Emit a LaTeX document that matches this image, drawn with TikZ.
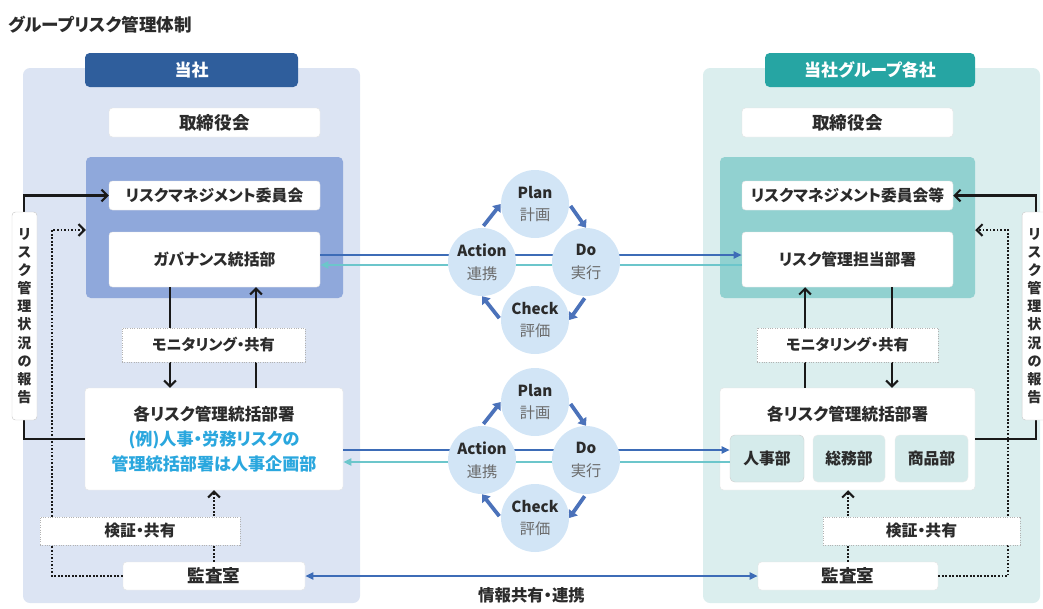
\documentclass[tikz,border=0pt]{standalone}
\usepackage{fontspec}
\setmainfont{Noto Sans CJK JP}[RawFeature=+palt]
\usetikzlibrary{arrows.meta, positioning}

\definecolor{txt}{HTML}{2B2B2B}
\definecolor{bgL}{HTML}{DCE4F3}
\definecolor{hdL}{HTML}{2F5E9C}
\definecolor{inL}{HTML}{8FA8DB}
\definecolor{bgR}{HTML}{DBEEEE}
\definecolor{hdR}{HTML}{26A5A3}
\definecolor{inR}{HTML}{91D1D0}
\definecolor{subR}{HTML}{D5EBEB}
\definecolor{exC}{HTML}{2AA7DE}
\definecolor{lblue}{HTML}{3D6CB7}
\definecolor{lteal}{HTML}{6CC6CB}
\definecolor{cyc}{HTML}{D2E5F6}
\definecolor{cycarr}{HTML}{4B72BA}
\definecolor{cycgray}{HTML}{6A6A6A}

\begin{document}
\begin{tikzpicture}[x=0.03cm, y=-0.03cm,
  sz/.style 2 args={minimum width=#1*0.03cm, minimum height=#2*0.03cm},
  box/.style={fill=white, draw=black!10, rounded corners=3pt, inner sep=0pt, text=txt,
    font=\bfseries\fontsize{13.5}{16}\selectfont},
  big/.style={font=\bfseries\fontsize{15}{17}\selectfont},
  head/.style={rounded corners=4pt, inner sep=0pt, text=white,
    font=\bfseries\fontsize{14.5}{16}\selectfont},
  inner/.style={rounded corners=4pt, inner sep=0pt},
  sub/.style={fill=subR, draw=black!8, rounded corners=4pt, inner sep=0pt, text=txt,
    font=\bfseries\fontsize{13.5}{15}\selectfont},
  tag/.style={fill=white, draw=black!30, line width=0.8pt, dash pattern=on 0.8pt off 1.2pt,
    inner sep=0pt, text=txt, font=\bfseries\fontsize{13.5}{15}\selectfont},
  note/.style={fill=white, draw=black!20, rounded corners=3pt, inner sep=0pt, align=center,
    text=txt, font=\bfseries\fontsize{12}{15.5}\selectfont},
  lbl/.style={inner sep=0pt, text=txt, font=\bfseries\fontsize{14}{16}\selectfont},
  pdca/.style={circle, fill=cyc, minimum size=68*0.03cm, inner sep=0pt, align=center,
    text=txt, font=\fontsize{13}{19.5}\selectfont},
  blk/.style={draw=black!90, line width=1.8pt, -{Straight Barb[length=5pt,width=10pt]}},
  dots/.style={draw=black!90, line width=1.8pt, dash pattern=on 1.6pt off 1.4pt,
    -{Straight Barb[length=5pt,width=10pt]}},
  bline/.style={draw=lblue, line width=2pt, -{Triangle[length=7pt,width=6pt]}},
  tline/.style={draw=lteal, line width=2pt, -{Triangle[length=7pt,width=6pt]}},
  turn/.style={draw=cycarr, line width=3.2pt, -{Triangle[length=6pt,width=9pt]}, shorten <=2pt}
]
\useasboundingbox (0,0) rectangle (1043,608);

% title
\node[lbl, anchor=west, font=\bfseries\fontsize{15}{17}\selectfont] (ttl) at (8,25) {グループリスク管理体制};

% panels
\fill[bgL, rounded corners=6pt] (23,68) rectangle (360,603);
\fill[bgR, rounded corners=6pt] (703,68) rectangle (1040,603);

% left side: 当社
\node[head, fill=hdL, sz={213}{34}] (hdL) at (191.5,70) {当社};
\node[box, big, sz={211}{29}] (brdL) at (214.5,122.5) {取締役会};
\node[inner, fill=inL, sz={257}{141}] (innL) at (214.5,227.5) {};
\node[box, sz={211}{29}] (rmcL) at (214.5,195.5) {リスクマネジメント委員会};
\node[box, sz={211}{55}] (govL) at (214.5,259.5) {ガバナンス統括部};
\node[box, sz={258}{102}, align=center, font=\bfseries\fontsize{14.2}{21.5}\selectfont] (deptL) at (214,439)
  {各リスク管理統括部署\\{\color{exC}\fontsize{14.6}{21.5}\selectfont{}(例)人事・労務リスクの}\\{\color{exC}\fontsize{14.6}{21.5}\selectfont{}管理統括部署は人事企画部}};
\node[box, big, sz={182}{28}] (audL) at (214,576) {監査室};

% right side: 当社グループ各社
\node[head, fill=hdR, sz={210}{34}] (hdR) at (870,70) {当社グループ各社};
\node[box, big, sz={211}{29}] (brdR) at (847.5,122.5) {取締役会};
\node[inner, fill=inR, sz={255}{141}] (innR) at (847.5,227.5) {};
\node[box, sz={211}{29}] (rmcR) at (847.5,195.5) {リスクマネジメント委員会等};
\node[box, sz={211}{55}] (mgrR) at (847.5,259.5) {リスク管理担当部署};
\node[box, sz={255}{102}] (deptR) at (847.5,439) {};
\node[lbl, font=\bfseries\fontsize{14.2}{16}\selectfont] (deptRt) at (847.5,414) {各リスク管理統括部署};
\node[sub, sz={74}{47}, draw=black!18] (hrR) at (767,458.5) {人事部};
\node[sub, sz={72}{47}] (gaR) at (849,458.5) {総務部};
\node[sub, sz={73}{47}] (prR) at (931.5,458.5) {商品部};
\node[box, big, sz={180}{28}] (audR) at (848,576) {監査室};

% reporting lines
\coordinate (bendL) at (24,195.5);
\coordinate (bendR) at (1036,195.5);
\draw[blk] (deptL.west) -| (bendL) -- (rmcL.west);
\draw[blk] (deptR.east) -| (bendR) -- (rmcR.east);

\coordinate (dotL) at (52,230);
\coordinate (dotR) at (1008,230);
\draw[dots] (audL.west) -| (dotL) -- (dotL -| innL.west);
\draw[dots] (audR.east) -| (dotR) -- (dotR -| innR.east);

% monitoring arrows
\draw[blk] (govL.south -| 170,0) -- (deptL.north -| 170,0);
\draw[blk] (deptL.north -| 256,0) -- (govL.south -| 256,0);
\draw[blk] (deptR.north -| 805,0) -- (mgrR.south -| 805,0);
\draw[blk] (mgrR.south -| 892,0) -- (deptR.north -| 892,0);

% audit arrows
\draw[dots] (audL.north) -- (audL.north |- deptL.south);
\draw[dots] (audR.north) -- (audR.north |- deptR.south);

% links between the two sides
\draw[bline] (govL.east |- 0,255) -- (mgrR.west |- 0,255);
\draw[tline] (mgrR.west |- 0,265) -- (govL.east |- 0,265);
\draw[bline] (deptL.east |- 0,450) -- (hrR.west |- 0,450);
\draw[tline] (hrR.west |- 0,462) -- (deptL.east |- 0,462);
\draw[bline, {Triangle[length=7pt,width=6pt]}-{Triangle[length=7pt,width=6pt]}] (audL.east) -- (audR.west)
  node[lbl, midway, below=9pt] (info) {情報共有・連携};

% PDCA cycles
\foreach \n/\dy in {up/0, dn/198} {
  \node[pdca] (plan\n) at (535,204+\dy) {\textbf{Plan}\\{\color{cycgray}計画}};
  \node[pdca] (act\n) at (482,262+\dy) {\textbf{Action}\\{\color{cycgray}連携}};
  \node[pdca] (do\n) at (586,262+\dy) {\textbf{Do}\\{\color{cycgray}実行}};
  \node[pdca] (chk\n) at (535,320+\dy) {\textbf{Check}\\{\color{cycgray}評価}};
  \draw[turn] (act\n.north) -- (plan\n.west);
  \draw[turn] (plan\n.east) -- (do\n.north);
  \draw[turn] (do\n.south) -- (chk\n.east);
  \draw[turn] (chk\n.west) -- (act\n.south);
}

% labels over the lines
\node[tag, sz={183}{34}, font=\bfseries\fontsize{13}{14}\selectfont] (monL) at (213.5,345) {モニタリング・共有};
\node[tag, sz={200}{28}] (verL) at (140,531) {検証・共有};
\node[note, sz={25}{208}] (repL) at (24.5,316) {リ\\ス\\ク\\管\\理\\状\\況\\の\\報\\告};
\node[tag, sz={181}{34}, font=\bfseries\fontsize{13}{14}\selectfont] (monR) at (847.5,345) {モニタリング・共有};
\node[tag, sz={197}{28}] (verR) at (921.5,531) {検証・共有};
\node[note, sz={25}{208}] (repR) at (1034.5,316) {リ\\ス\\ク\\管\\理\\状\\況\\の\\報\\告};

\end{tikzpicture}
\end{document}
